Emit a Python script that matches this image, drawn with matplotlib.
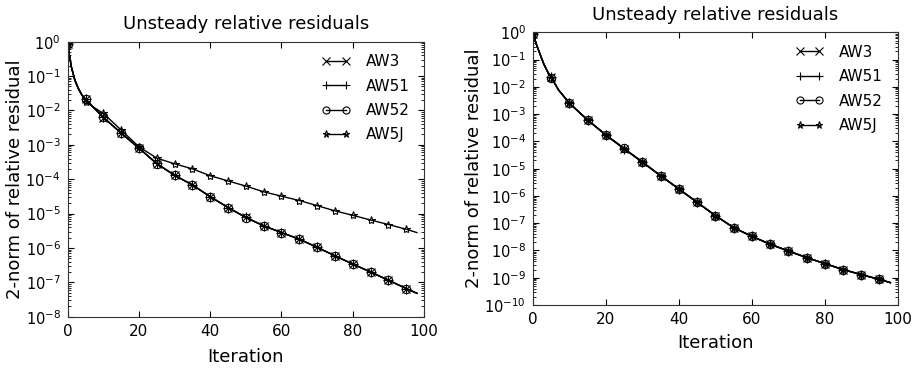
import matplotlib
matplotlib.use('Agg')
import matplotlib.pyplot as plt
import numpy as np
from matplotlib.ticker import LogLocator, NullFormatter

iters = [0, 1, 2, 3, 4, 5, 7, 10, 15, 20, 25, 30, 35, 40, 45, 50, 55, 60,
         65, 70, 75, 80, 85, 90, 95, 98]

# left panel
left_aw3 = [0.85, 0.19, 0.076, 0.043, 0.028, 0.021, 0.013, 6.2e-3, 2.2e-3, 8.0e-4,
            2.8e-4, 1.3e-4, 6.8e-5, 3.1e-5, 1.5e-5, 7.8e-6, 4.4e-6, 2.8e-6,
            1.8e-6, 1.05e-6, 5.9e-7, 3.4e-7, 2.0e-7, 1.15e-7, 6.6e-8, 4.8e-8]
left_aw51 = [0.85, 0.19, 0.076, 0.043, 0.028, 0.021, 0.013, 6.3e-3, 2.2e-3, 8.0e-4,
             2.9e-4, 1.3e-4, 6.8e-5, 3.1e-5, 1.5e-5, 7.7e-6, 4.4e-6, 2.8e-6,
             1.8e-6, 1.04e-6, 5.9e-7, 3.4e-7, 2.0e-7, 1.15e-7, 6.6e-8, 4.8e-8]
left_aw52 = [0.85, 0.19, 0.075, 0.042, 0.028, 0.021, 0.013, 6.3e-3, 2.2e-3, 8.0e-4,
             2.8e-4, 1.3e-4, 6.8e-5, 3.1e-5, 1.5e-5, 7.6e-6, 4.4e-6, 2.8e-6,
             1.8e-6, 1.04e-6, 5.9e-7, 3.4e-7, 2.0e-7, 1.15e-7, 6.6e-8, 4.8e-8]
left_aw5j = [0.85, 0.19, 0.08, 0.045, 0.028, 0.018, 0.013, 8.2e-3, 2.7e-3, 8.8e-4,
             4.1e-4, 2.8e-4, 2.0e-4, 1.26e-4, 8.9e-5, 6.3e-5, 4.3e-5, 3.2e-5,
             2.4e-5, 1.7e-5, 1.2e-5, 8.9e-6, 6.5e-6, 4.8e-6, 3.5e-6, 2.8e-6]

# right panel
right_aw3 = [0.9, 0.34, 0.15, 0.067, 0.036, 0.023, 7.7e-3, 2.5e-3, 6.1e-4, 1.7e-4,
             5.4e-5, 1.75e-5, 5.5e-6, 1.8e-6, 5.8e-7, 1.9e-7, 6.9e-8, 3.3e-8,
             1.7e-8, 9.6e-9, 5.5e-9, 3.3e-9, 2.0e-9, 1.3e-9, 8.7e-10, 6.6e-10]
right_aw51 = [0.9, 0.34, 0.15, 0.067, 0.036, 0.023, 7.7e-3, 2.5e-3, 6.0e-4, 1.7e-4,
              5.3e-5, 1.7e-5, 5.4e-6, 1.8e-6, 5.8e-7, 1.9e-7, 6.9e-8, 3.3e-8,
              1.7e-8, 9.6e-9, 5.5e-9, 3.3e-9, 2.0e-9, 1.3e-9, 8.7e-10, 6.6e-10]
right_aw52 = [0.9, 0.34, 0.15, 0.067, 0.036, 0.022, 7.7e-3, 2.5e-3, 6.1e-4, 1.75e-4,
              5.5e-5, 1.75e-5, 5.6e-6, 1.8e-6, 5.9e-7, 1.9e-7, 6.9e-8, 3.3e-8,
              1.7e-8, 9.6e-9, 5.5e-9, 3.3e-9, 2.0e-9, 1.3e-9, 8.7e-10, 6.6e-10]
right_aw5j = [0.9, 0.34, 0.15, 0.067, 0.036, 0.022, 7.7e-3, 2.5e-3, 6.0e-4, 1.7e-4,
              5.4e-5, 1.75e-5, 5.5e-6, 1.8e-6, 5.8e-7, 1.9e-7, 6.9e-8, 3.3e-8,
              1.7e-8, 9.6e-9, 5.5e-9, 3.3e-9, 2.0e-9, 1.3e-9, 8.7e-10, 6.6e-10]

labels = ['AW3', 'AW51', 'AW52', 'AW5J']
markers = ['x', '+', 'o', '*']
marker_sizes = [6, 7, 6, 6]

# markers every 5 iterations, line runs a bit further
mark_idx = [i for i, t in enumerate(iters) if t % 5 == 0 and t < 98]

fig = plt.figure(figsize=(9.21, 3.68), dpi=100)
ax1 = fig.add_axes([0.0735, 0.1394, 0.3869, 0.7473])
ax2 = fig.add_axes([0.5787, 0.1712, 0.396, 0.741])

panels = [
    (ax1, [left_aw3, left_aw51, left_aw52, left_aw5j], 1e-8, 7, 0.62),
    (ax2, [right_aw3, right_aw51, right_aw52, right_aw5j], 1e-10, 5, 0.62),
]

for ax, series, ymin, xpad, lspace in panels:
    for vals, lab, m, ms in zip(series, labels, markers, marker_sizes):
        ax.semilogy(iters, vals, color='black', linewidth=1.0, marker=m,
                    markersize=ms, markevery=mark_idx, markerfacecolor='none',
                    markeredgecolor='black', markeredgewidth=0.8, label=lab)
    ax.set_xlim(0, 100)
    ax.set_ylim(ymin, 1)
    ax.set_xticks([0, 20, 40, 60, 80, 100])
    ax.yaxis.set_major_locator(LogLocator(base=10, numticks=20))
    ax.yaxis.set_minor_locator(LogLocator(base=10, subs=np.arange(2, 10), numticks=20))
    ax.yaxis.set_minor_formatter(NullFormatter())
    ax.tick_params(axis='both', which='both', direction='in', top=True, right=True)
    ax.tick_params(axis='x', labelsize=11, pad=5)
    ax.tick_params(axis='y', labelsize=10.5, pad=5)
    ax.tick_params(which='major', length=4)
    ax.tick_params(which='minor', length=2)
    for s in ax.spines.values():
        s.set_color('#333333')
        s.set_linewidth(0.8)
    ax.set_title('Unsteady relative residuals', fontsize=13, pad=9)
    ax.set_xlabel('Iteration', fontsize=13, labelpad=xpad)
    ax.set_ylabel('2-norm of relative residual', fontsize=13, labelpad=1)
    ax.legend(loc='upper right', frameon=False, fontsize=11, numpoints=2,
              handlelength=1.9, handletextpad=1.0, labelspacing=lspace,
              markerscale=0.85, borderaxespad=0, borderpad=0,
              bbox_to_anchor=(0.96, 0.955))

plt.savefig('out.png', dpi=100)
